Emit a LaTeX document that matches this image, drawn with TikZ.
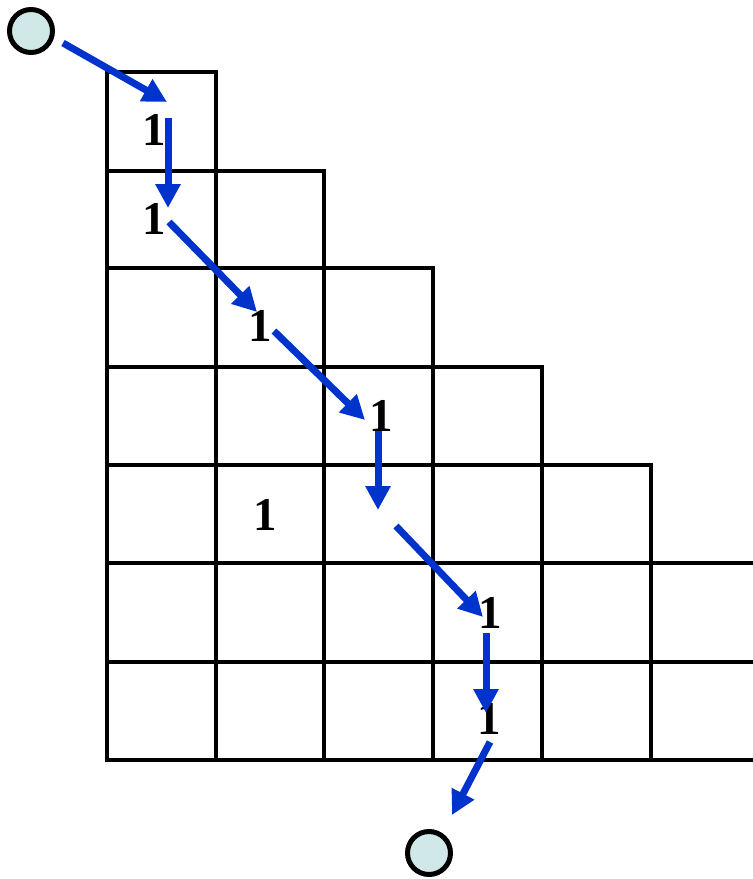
\documentclass[tikz,border=0pt]{standalone}
\usepackage{fontspec}
\setmainfont{Liberation Serif}
\usetikzlibrary{arrows.meta}
\definecolor{arrowblue}{RGB}{0,51,204}
\definecolor{endfill}{RGB}{208,232,232}
\begin{document}
\begin{tikzpicture}[x=1pt,y=-1pt,
  gridline/.style={line width=4.2pt,black,line cap=rect},
  one/.style={font=\fontsize{47}{47}\selectfont\bfseries,inner sep=0pt},
  endpt/.style={circle,draw=black,line width=5pt,fill=endfill,minimum size=43pt,inner sep=0pt},
  flow/.style={arrowblue,line width=7pt,-{Triangle[length=24pt,width=24pt]}}]
\useasboundingbox (0,0) rectangle (753,879);
% grid
\draw[gridline] (107,760) -- (107,72) -- (216,72) -- (216,760);
\draw[gridline] (107,171) -- (324,171) -- (324,760);
\draw[gridline] (107,268) -- (433,268) -- (433,760);
\draw[gridline] (107,367) -- (542,367) -- (542,760);
\draw[gridline] (107,465) -- (651,465) -- (651,760);
\draw[gridline] (107,563) -- (760,563);
\draw[gridline] (107,662) -- (760,662);
\draw[gridline] (107,760) -- (760,760);
% end points
\node[endpt] (start) at (31,31) {};
\node[endpt] (stop) at (429,853) {};
% labels
\node[one] (n1) at (154,130) {1};
\node[one] (n2) at (154,219) {1};
\node[one] (n3) at (260,326) {1};
\node[one] (n4) at (381,416) {1};
\node[one] (n5) at (265,515) {1};
\node[one] (n6) at (490,613) {1};
\node[one] (n7) at (489,719) {1};
% arrow anchor coordinates
\coordinate (a0s) at (63,43);   \coordinate (a0e) at (167,102);
\coordinate (a1s) at (168,118); \coordinate (a1e) at (168,208);
\coordinate (a2s) at (169,222); \coordinate (a2e) at (257,312);
\coordinate (a3s) at (274,331); \coordinate (a3e) at (365,420);
\coordinate (a4s) at (378,431); \coordinate (a4e) at (378,510);
\coordinate (a5s) at (396,526); \coordinate (a5e) at (483,617);
\coordinate (a6s) at (486,633); \coordinate (a6e) at (486,713);
\coordinate (a7s) at (490,742); \coordinate (a7e) at (452,815);
\draw[flow] (a0s) -- (a0e);
\draw[flow] (a1s) -- (a1e);
\draw[flow] (a2s) -- (a2e);
\draw[flow] (a3s) -- (a3e);
\draw[flow] (a4s) -- (a4e);
\draw[flow] (a5s) -- (a5e);
\draw[flow] (a6s) -- (a6e);
\draw[flow] (a7s) -- (a7e);
\end{tikzpicture}
\end{document}
